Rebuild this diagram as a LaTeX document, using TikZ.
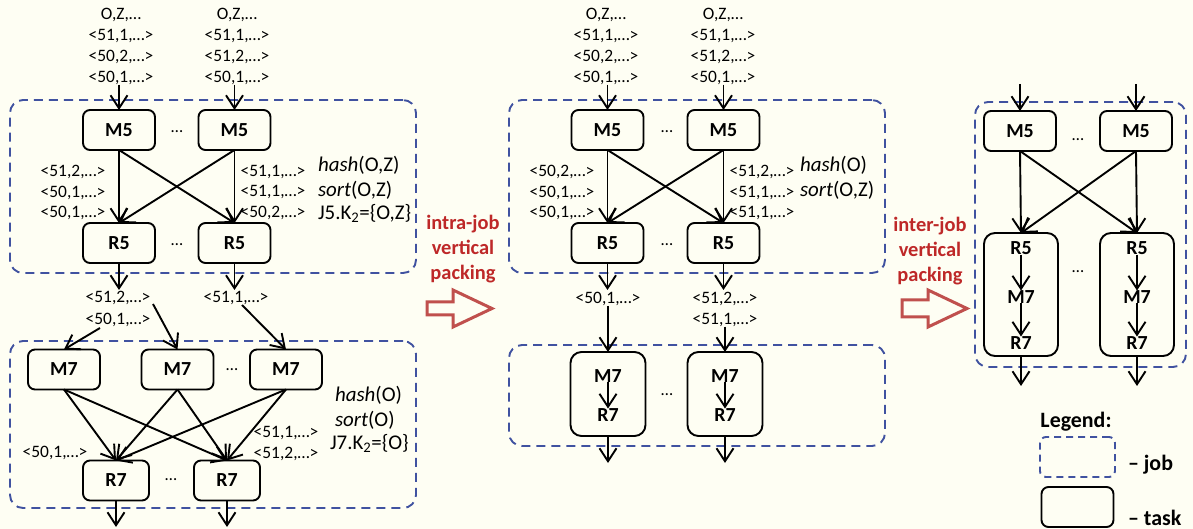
\documentclass[tikz,border=0pt]{standalone}
\usepackage{fontspec}
\setmainfont{Carlito}
\usetikzlibrary{arrows.meta}
\definecolor{bg}{RGB}{254,254,243}
\definecolor{jobblue}{RGB}{64,82,160}
\definecolor{packred}{RGB}{190,40,40}
\definecolor{arrred}{RGB}{192,80,77}
\begin{document}
\begin{tikzpicture}[x=1bp,y=-1bp,
  every node/.style={inner sep=0pt, outer sep=0pt},
  task/.style={draw=black, line width=1.9bp, rounded corners=7bp, fill=bg,
    minimum width=72bp, minimum height=40bp, font=\fontsize{20}{22}\selectfont\bfseries},
  bigtask/.style={draw=black, line width=1.9bp, rounded corners=11bp, fill=bg},
  tname/.style={font=\fontsize{20}{22}\selectfont\bfseries},
  job/.style={draw=jobblue, line width=1.9bp, dash pattern=on 9bp off 6bp, rounded corners=13bp},
  lbl/.style={font=\fontsize{17.5}{21}\selectfont, align=center},
  keyt/.style={font=\fontsize{21}{24}\selectfont, anchor=west},
  dots/.style={font=\fontsize{17}{18}\selectfont},
  arr/.style={line width=1.9bp, -{Straight Barb[length=13bp,width=17bp]}},
  pack/.style={font=\fontsize{20.5}{25}\selectfont\bfseries, text=packred, align=center},
  legf/.style={font=\fontsize{22}{24}\selectfont\bfseries},
  hollow/.style={draw=arrred, line width=3bp, fill=bg, line join=miter},
]
\useasboundingbox[fill=bg] (0,0) rectangle (1193,529);

% ================= LEFT PANEL =================
\node[job, minimum width=406bp, minimum height=173bp] (jobLa) at (213,186.5) {};
\node[job, minimum width=406bp, minimum height=167bp] (jobLb) at (213,424.5) {};

\node[lbl] (inLa) at (121,46.5) {O,Z,…\\<51,1,…>\\<50,2,…>\\<50,1,…>};
\node[lbl] (inLb) at (237,46.5) {O,Z,…\\<51,1,…>\\<51,2,…>\\<50,1,…>};

\node[task] (M5La) at (119,130) {M5};
\node[task] (M5Lb) at (234.5,130) {M5};
\node[task] (R5La) at (119,243) {R5};
\node[task] (R5Lb) at (234.5,243) {R5};
\node[dots] (dL1) at (177,132) {…};
\node[dots] (dL2) at (177,245) {…};

\draw[arr] (inLa.south -| M5La.north) -- (M5La.north);
\draw[arr] (inLb.south -| M5Lb.north) -- (M5Lb.north);
\draw[arr] (M5La.south) -- (R5La.north);
\draw[arr] (M5La.south) -- (R5Lb.north);
\draw[arr] (M5Lb.south) -- (R5Lb.north);
\draw[arr] (M5Lb.south) -- (R5La.north);

\node[lbl] (lLa) at (73,192.5) {<51,2,…>\\<50,1,…>\\<50,1,…>};
\node[lbl] (lLb) at (273,192.5) {<51,1,…>\\<51,1,…>\\<50,2,…>};
\node[keyt] (hLa) at (318,165) {\textit{hash}(O,Z)};
\node[keyt] (sLa) at (318,190) {\textit{sort}(O,Z)};
\node[keyt] (kLa) at (318,213) {J5.K\textsubscript{2}=\{O,Z\}};

\coordinate (oLa) at (119,290);
\coordinate (oLb) at (234.5,290);
\draw[arr] (R5La.south) -- (oLa);
\draw[arr] (R5Lb.south) -- (oLb);

\node[lbl] (mLa) at (118,298) {<51,2,…>};
\node[lbl] (mLb) at (118,320) {<50,1,…>};
\node[lbl] (mLc) at (236,298) {<51,1,…>};

\node[task] (M7La) at (64,369.5) {M7};
\node[task] (M7Lb) at (177.5,369.5) {M7};
\node[task] (M7Lc) at (286,369.5) {M7};
\node[dots] (dL3) at (232,370) {…};
\node[task, minimum width=66bp] (R7La) at (116,480.5) {R7};
\node[task, minimum width=66bp] (R7Lb) at (227,480.5) {R7};
\node[dots] (dL4) at (171,480) {…};

\coordinate (sLa2) at (100,328);
\coordinate (sLb2) at (153,304);
\coordinate (sLc2) at (242,305);
\draw[arr] (sLa2) -- (M7La.north);
\draw[arr] (sLb2) -- (M7Lb.north);
\draw[arr] (sLc2) -- (M7Lc.north);

\foreach \m in {M7La,M7Lb,M7Lc}{
  \draw[arr] (\m.south) -- (R7La.north);
  \draw[arr] (\m.south) -- (R7Lb.north);
}

\node[lbl] (nLa) at (55,453) {<50,1,…>};
\node[lbl] (nLb) at (286,433) {<51,1,…>};
\node[lbl] (nLc) at (286,454) {<51,2,…>};
\node[keyt] (hLb) at (335,395) {\textit{hash}(O)};
\node[keyt] (sLb) at (335,420) {\textit{sort}(O)};
\node[keyt] (kLb) at (330,443) {J7.K\textsubscript{2}=\{O\}};

\coordinate (eLa) at (116,527);
\coordinate (eLb) at (227,527);
\draw[arr] (R7La.south) -- (eLa);
\draw[arr] (R7Lb.south) -- (eLb);

% ================= INTRA-JOB ARROW =================
\node[pack] (intra) at (463,249) {intra-job\\vertical\\packing};
\draw[hollow] (427,302) -- (453,302) -- (453,290) -- (492,308.5) -- (453,327) -- (453,315) -- (427,315) -- cycle;

% ================= MIDDLE PANEL =================
\node[job, minimum width=376bp, minimum height=173bp] (jobMa) at (697,186.5) {};
\node[job, minimum width=376bp, minimum height=101bp] (jobMb) at (697,395.5) {};

\node[lbl] (inMa) at (606,46.5) {O,Z,…\\<51,1,…>\\<50,2,…>\\<50,1,…>};
\node[lbl] (inMb) at (723,46.5) {O,Z,…\\<51,1,…>\\<51,2,…>\\<50,1,…>};

\node[task] (M5Ma) at (607.5,130) {M5};
\node[task] (M5Mb) at (723.5,130) {M5};
\node[task] (R5Ma) at (607.5,243) {R5};
\node[task] (R5Mb) at (723.5,243) {R5};
\node[dots] (dM1) at (667,132) {…};
\node[dots] (dM2) at (667,245) {…};

\draw[arr] (inMa.south -| M5Ma.north) -- (M5Ma.north);
\draw[arr] (inMb.south -| M5Mb.north) -- (M5Mb.north);
\draw[arr] (M5Ma.south) -- (R5Ma.north);
\draw[arr] (M5Ma.south) -- (R5Mb.north);
\draw[arr] (M5Mb.south) -- (R5Mb.north);
\draw[arr] (M5Mb.south) -- (R5Ma.north);

\node[lbl] (lMa) at (562,192.5) {<50,2,…>\\<50,1,…>\\<50,1,…>};
\node[lbl] (lMb) at (762,192.5) {<51,2,…>\\<51,1,…>\\<51,1,…>};
\node[keyt] (hMa) at (800,165) {\textit{hash}(O)};
\node[keyt] (sMa) at (800,190) {\textit{sort}(O,Z)};

\coordinate (oMa) at (607.5,290);
\coordinate (oMb) at (723.5,290);
\draw[arr] (R5Ma.south) -- (oMa);
\draw[arr] (R5Mb.south) -- (oMb);

\node[lbl] (mMa) at (608,299) {<50,1,…>};
\node[lbl] (mMb) at (725,299) {<51,2,…>};
\node[lbl] (mMc) at (725,320) {<51,1,…>};

\node[bigtask, minimum width=75bp, minimum height=84bp] (CMa) at (608,394) {};
\node[bigtask, minimum width=75bp, minimum height=84bp] (CMb) at (725,394) {};
\node[tname] (M7Ma) at (608,376) {M7};
\node[tname] (R7Ma) at (608,415) {R7};
\node[tname] (M7Mb) at (725,376) {M7};
\node[tname] (R7Mb) at (725,415) {R7};
\draw[arr] (M7Ma.south) -- (R7Ma.north);
\draw[arr] (M7Mb.south) -- (R7Mb.north);
\node[dots] (dM3) at (667,395) {…};

\draw[arr] (mMa.south) -- (CMa.north);
\draw[arr] (mMc.south) -- (CMb.north);

\coordinate (eMa) at (608,463);
\coordinate (eMb) at (725,463);
\draw[arr] (CMa.south) -- (eMa);
\draw[arr] (CMb.south) -- (eMb);

% ================= INTER-JOB ARROW =================
\node[pack] (inter) at (930,251) {inter-job\\vertical\\packing};
\draw[hollow] (902,300) -- (928,300) -- (928,290) -- (967,308.5) -- (928,327) -- (928,317) -- (902,317) -- cycle;

% ================= RIGHT PANEL =================
\node[job, minimum width=211bp, minimum height=265bp] (jobR) at (1080.5,234.5) {};
\node[task] (M5Ra) at (1020,131) {M5};
\node[task] (M5Rb) at (1136,131) {M5};
\node[dots] (dR1) at (1078,140) {…};
\coordinate (iRa) at (1020,84);
\coordinate (iRb) at (1136,84);
\draw[arr] (iRa) -- (M5Ra.north);
\draw[arr] (iRb) -- (M5Rb.north);

\node[bigtask, minimum width=74bp, minimum height=123bp] (CRa) at (1021,294.5) {};
\node[bigtask, minimum width=74bp, minimum height=123bp] (CRb) at (1137,294.5) {};
\node[dots] (dR2) at (1078,272) {…};
\foreach \c/\x in {a/1021,b/1137}{
  \node[tname] (R5R\c) at (\x,248) {R5};
  \node[tname] (M7R\c) at (\x,297) {M7};
  \node[tname] (R7R\c) at (\x,343) {R7};
  \draw[arr] (R5R\c.south) -- (M7R\c.north);
  \draw[arr] (M7R\c.south) -- (R7R\c.north);
}
\draw[arr] (M5Ra.south) -- (CRa.north);
\draw[arr] (M5Ra.south) -- (CRb.north);
\draw[arr] (M5Rb.south) -- (CRb.north);
\draw[arr] (M5Rb.south) -- (CRa.north);

\coordinate (eRa) at (1021,386);
\coordinate (eRb) at (1137,386);
\draw[arr] (CRa.south) -- (eRa);
\draw[arr] (CRb.south) -- (eRb);

% ================= LEGEND =================
\node[legf] (legt) at (1076,422) {Legend:};
\node[job, rounded corners=6bp, dash pattern=on 7bp off 5bp, minimum width=75bp, minimum height=40bp] (legjob) at (1077.5,457) {};
\node[task] (legtask) at (1077.5,507) {};
\node[legf, anchor=west] (legjt) at (1128,465) {– job};
\node[legf, anchor=west] (legtt) at (1128,518) {– task};
\end{tikzpicture}
\end{document}
